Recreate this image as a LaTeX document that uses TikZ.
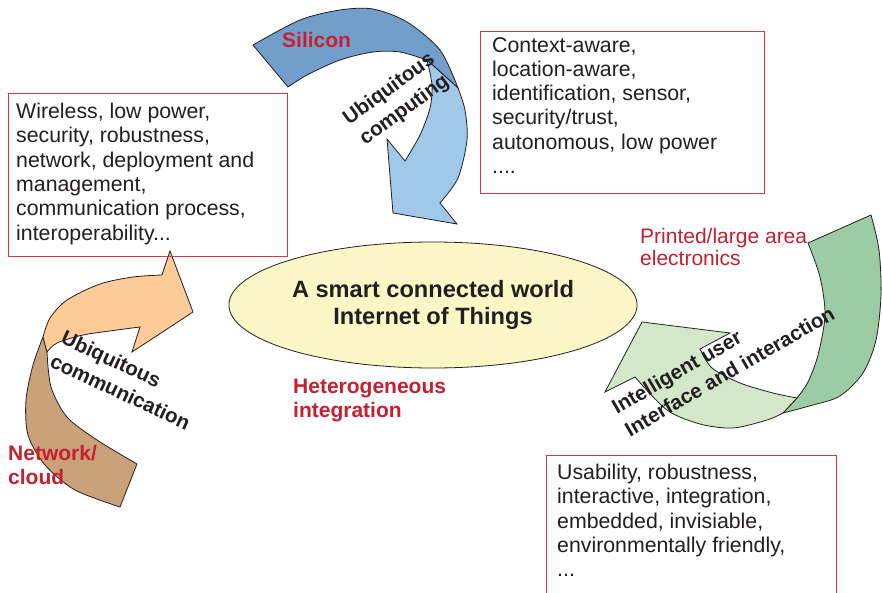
\documentclass[tikz,border=0pt]{standalone}
\usepackage{fontspec}
\setmainfont{Liberation Sans}
\usetikzlibrary{shapes.geometric}

\definecolor{ink}{HTML}{231F20}
\definecolor{boxred}{HTML}{D63A40}
\definecolor{labred}{HTML}{C6202E}
\definecolor{ellfill}{HTML}{FAF6C6}
\definecolor{blueD}{HTML}{729ECB}
\definecolor{blueL}{HTML}{A0C9E9}
\definecolor{orangeL}{HTML}{FDCB97}
\definecolor{brownD}{HTML}{C9A27A}
\definecolor{greenD}{HTML}{9CCCA3}
\definecolor{greenL}{HTML}{D3E8C8}

\tikzset{
  boxframe/.style={draw=boxred, line width=1.1pt, inner sep=0pt, anchor=north west},
  bodytext/.style={text=ink, font=\fontsize{21.3}{24.3}\selectfont, align=left, inner sep=0pt, anchor=north west},
  redlabel/.style={text=labred, font=\fontsize{21}{23.5}\selectfont\bfseries, align=left, inner sep=0pt, anchor=west},
  arrowlabel/.style={text=ink, font=\fontsize{20.5}{26}\selectfont\bfseries, inner sep=0pt},
  ribbon/.style={draw=ink, line width=0.8pt, line join=miter},
}

\begin{document}
\begin{tikzpicture}[x=1pt,y=-1pt]
\useasboundingbox (0,0) rectangle (882,593);
\fill[white] (0,0) rectangle (882,593);
\clip (0,0) rectangle (882,593);

% central ellipse
\node[ellipse, draw=ink, line width=0.8pt, fill=ellfill, minimum width=406pt, minimum height=126pt,
      text=ink, font=\fontsize{23.6}{27}\selectfont\bfseries, align=center] (iot) at (433,305)
      {A smart connected world\\Internet of Things};

% ubiquitous computing ribbon (top)
\path[ribbon, fill=blueD]
  plot[smooth] coordinates {(253,45) (300,20) (340,10) (373,9) (407,22) (440,50) (458,88)}
  -- (427,60)
  -- plot[smooth] coordinates {(427,60) (400,52) (373,52) (340,60) (307,75) (288,87)}
  -- cycle;
\path[ribbon, fill=blueL]
  (427,60) -- plot[smooth] coordinates {(458,88) (465,110) (467,140) (458,178) (440,203)}
  -- (457,224) -- (393,213) -- (387,139)
  -- plot[smooth] coordinates {(405,161) (420,135) (430,108) (432,85) (427,60)}
  -- cycle;

% ubiquitous communication ribbon (left)
\path[ribbon, fill=brownD]
  plot[smooth] coordinates {(43,337) (33,365) (26,400) (28,435) (45,465) (75,490) (120,507)}
  -- (137,464)
  -- plot[smooth] coordinates {(137,464) (97,440) (67,417) (51,387) (47,352)}
  -- cycle;
\path[ribbon, fill=orangeL]
  plot[smooth] coordinates {(43,337) (50,318) (67,300) (100,284) (133,277) (162,275)}
  -- (170,251) -- (193,312) -- (132,352)
  -- plot[smooth] coordinates {(140,327) (117,330) (83,335) (57,343) (47,352)}
  -- cycle;

% intelligent user interface ribbon (right)
\path[ribbon, fill=greenD]
  (808,243) -- (871,215)
  -- plot[smooth] coordinates {(871,215) (879,250) (881,295) (876,340) (863,373) (840,396) (813,405) (783,413)}
  -- (797,398)
  -- plot[smooth] coordinates {(797,398) (808,382) (818,355) (825,315) (820,277) (808,243)}
  -- cycle;
\path[ribbon, fill=greenL]
  plot[smooth] coordinates {(797,398) (773,393) (740,383) (712,368) (700,349)}
  -- (730,333) -- (642,322) -- (605,392)
  -- plot[smooth] coordinates {(635,377) (667,410) (700,424) (733,428) (767,420) (783,413)}
  -- cycle;

% requirement boxes
\node[boxframe, minimum width=279pt, minimum height=163pt] (commbox) at (8,93) {};
\node[bodytext] (commtext) at (16,103)
  {Wireless, low power,\\security, robustness,\\network, deployment and\\management,\\communication process,\\interoperability...};

\node[boxframe, minimum width=284pt, minimum height=162pt] (compbox) at (480,31) {};
\node[bodytext] (comptext) at (492,37)
  {Context-aware,\\location-aware,\\identification, sensor,\\security/trust,\\autonomous, low power\\....};

\node[boxframe, minimum width=290pt, minimum height=160pt] (userbox) at (546,455) {};
\node[bodytext] (usertext) at (557,464)
  {Usability, robustness,\\interactive, integration,\\embedded, invisiable,\\environmentally friendly,\\...};

% technology labels
\node[redlabel] (silicon) at (282,40) {Silicon};
\node[redlabel] (network) at (8,465) {Network/\\cloud};
\node[redlabel] (hetero) at (293,400.5) {Heterogeneous\\integration};
\node[redlabel, font=\fontsize{21}{22}\selectfont] (printed) at (640,247) {Printed/large area\\electronics};

% ribbon captions
\node[arrowlabel, rotate=36, align=center] (lblcomp) at (397,100) {Ubiquitous\\computing};
\node[arrowlabel, rotate=-25, align=left] (lblcomm) at (126,380) {Ubiquitous\\communication};
\node[arrowlabel, rotate=30, align=left] (lbluser) at (723,360) {Intelligent user\\Interface and interaction};
\end{tikzpicture}
\end{document}
